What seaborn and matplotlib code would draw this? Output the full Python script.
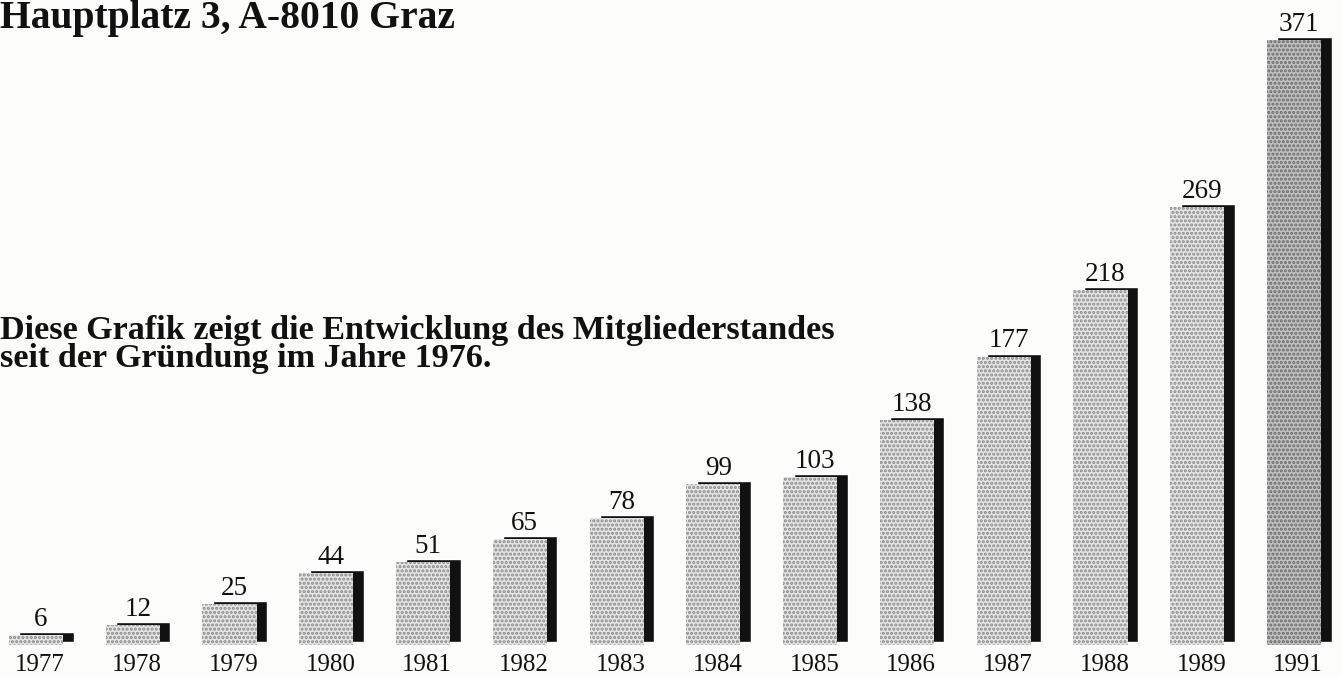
import matplotlib
matplotlib.use("Agg")
import matplotlib.pyplot as plt
from matplotlib.transforms import ScaledTranslation
import pandas as pd
import seaborn as sns

# Membership count per year since the association was founded
years = ["1977", "1978", "1979", "1980", "1981", "1982", "1983",
         "1984", "1985", "1986", "1987", "1988", "1989", "1991"]
members = [6, 12, 25, 44, 51, 65, 78, 99, 103, 138, 177, 218, 269, 371]

heading = "Hauptplatz 3, A-8010 Graz"
caption_lines = ["Diese Grafik zeigt die Entwicklung des Mitgliederstandes",
                 "seit der Gründung im Jahre 1976."]

df = pd.DataFrame({"Jahr": years, "Mitglieder": members})

sns.set_theme(style="white")
plt.rcParams["font.family"] = ["Liberation Serif", "DejaVu Serif"]
plt.rcParams["hatch.linewidth"] = 1.5

W, H, DPI = 13.41, 6.77, 100
paper = "#fcfcfa"
fig = plt.figure(figsize=(W, H), dpi=DPI, facecolor=paper)
ax = fig.add_axes([0, 0, 1, 1], facecolor=paper)

bar_w = 0.56
light = "#e4e4e4"
dark = "#c0c0c0"
fills = {y: (dark if y == "1991" else light) for y in years}

# black drop shadow behind each bar, shifted right and up
sns.barplot(data=df, x="Jahr", y="Mitglieder", color="#111111",
            width=bar_w, ax=ax, saturation=1, zorder=1)
shift = ScaledTranslation(0.105, 0.03, fig.dpi_scale_trans)
for p in ax.patches:
    p.set_transform(ax.transData + shift)
n_shadow = len(ax.patches)

# stippled front bars
sns.barplot(data=df, x="Jahr", y="Mitglieder", hue="Jahr", palette=fills,
            legend=False, width=bar_w, ax=ax, saturation=1, zorder=2)
for p in ax.patches[n_shadow:]:
    p.set_hatch("....")
    p.set_edgecolor("#8a8a8a" if p.get_height() < 300 else "#6a6a6a")
    p.set_linewidth(0)

for i, (yr, v) in enumerate(zip(years, members)):
    ax.annotate(str(v), xy=(i, v), xytext=(3.6, 6.5), textcoords="offset points",
                ha="center", va="baseline", fontsize=19.5, color="#111111")
    ax.annotate(yr, xy=(i, 0), xytext=(3.0, -19.0), textcoords="offset points",
                ha="center", va="baseline", fontsize=18, color="#111111",
                annotation_clip=False)

ax.set_xlim(-0.372, 13.486)
ax.set_ylim(-19.6, 395.7)
ax.axis("off")

fig.text(0.0, 1 - 28 / 677, heading, ha="left", va="baseline",
         fontsize=28.5, fontweight="bold", color="#111111")
fig.text(0.0, 1 - 339 / 677, caption_lines[0], ha="left", va="baseline",
         fontsize=24.6, fontweight="bold", color="#111111")
fig.text(0.0, 1 - 367 / 677, caption_lines[1], ha="left", va="baseline",
         fontsize=24.6, fontweight="bold", color="#111111")

fig.savefig("out.png", dpi=DPI, facecolor=paper)
